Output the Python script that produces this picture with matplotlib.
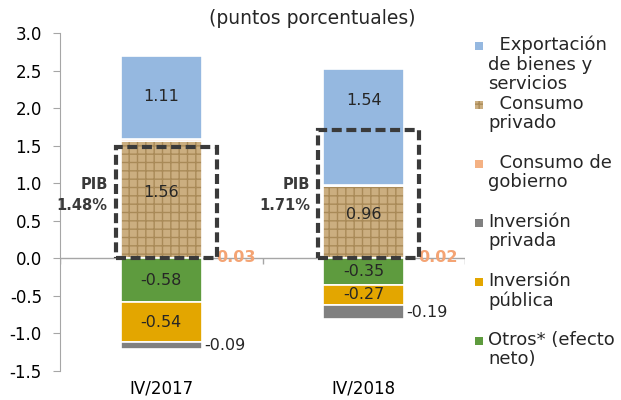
import numpy as np
import matplotlib
matplotlib.use("Agg")
import matplotlib.pyplot as plt
from matplotlib.patches import Rectangle

# data
periodos = ["IV/2017", "IV/2018"]
exportacion = [1.11, 1.54]
consumo_privado = [1.56, 0.96]
consumo_gobierno = [0.03, 0.02]
inversion_privada = [-0.09, -0.19]
inversion_publica = [-0.54, -0.27]
otros = [-0.58, -0.35]
pib = [1.48, 1.71]

c_exp = "#95B8E0"
c_cp = "#CBAE80"
c_cp_h = "#A98A58"
c_cg = "#F4B183"
c_ipr = "#808080"
c_ipu = "#E3A600"
c_otr = "#5E9B3E"
c_txt = "#262626"

plt.rcParams["font.family"] = ["DejaVu Sans"]

fig = plt.figure(figsize=(6.21, 4.0), dpi=100)
ax = fig.add_axes([60/621, 29/400, 405/621, 338/400])

x = np.arange(len(periodos))
w = 0.4
cp = np.array(consumo_privado)
cg = np.array(consumo_gobierno)
ex = np.array(exportacion)
ot = np.array(otros)
ipu = np.array(inversion_publica)
ipr = np.array(inversion_privada)

# positive stack
ax.bar(x, cp, w, color=c_cp, edgecolor=c_cp_h, hatch="++", linewidth=0, zorder=2)
ax.bar(x, cp, w, fill=False, edgecolor="white", linewidth=1.2, zorder=3)
ax.bar(x, cg, w, bottom=cp, color=c_cg, edgecolor="white", linewidth=1.2, zorder=3)
ax.bar(x, ex, w, bottom=cp + cg, color=c_exp, edgecolor="white", linewidth=1.2, zorder=3)
# negative stack
ax.bar(x, ot, w, color=c_otr, edgecolor="white", linewidth=1.2, zorder=3)
ax.bar(x, ipu, w, bottom=ot, color=c_ipu, edgecolor="white", linewidth=1.2, zorder=3)
ax.bar(x, ipr, w, bottom=ot + ipu, color=c_ipr, edgecolor="white", linewidth=1.2, zorder=3)

# export labels sit high in the segment (above the PIB box)
exp_lab_y = [2.15, 2.1]

fs = 11.5
for i in range(len(x)):
    ax.text(x[i], exp_lab_y[i], f"{ex[i]:.2f}", ha="center", va="center", fontsize=fs, color=c_txt, zorder=5)
    ax.text(x[i], cp[i] / 2 + 0.1, f"{cp[i]:.2f}", ha="center", va="center", fontsize=fs, color=c_txt, zorder=5)
    ax.text(x[i], ot[i] / 2, f"{ot[i]:.2f}", ha="center", va="center", fontsize=fs, color=c_txt, zorder=5)
    ax.text(x[i], ot[i] + ipu[i] / 2, f"{ipu[i]:.2f}", ha="center", va="center", fontsize=fs, color=c_txt, zorder=5)
    ax.text(x[i] + w / 2 + 0.01, ot[i] + ipu[i] + ipr[i] / 2, f"{ipr[i]:.2f}", ha="left", va="center", fontsize=fs, color=c_txt, zorder=5)
    ax.text(x[i] + w / 2 + 0.07, cg[i] / 2, f"{cg[i]:.2f}", ha="left", va="center", fontsize=fs, color="#F4A474", fontweight="bold", zorder=5)
    # PIB dashed box
    ax.add_patch(Rectangle((x[i] - 0.225, 0), 0.5, pib[i], fill=False, edgecolor="#3A3A3A",
                           linewidth=3, linestyle=(0, (2.4, 1.1)), zorder=6))
    ax.text(x[i] - 0.265, 0.84, f"PIB\n{pib[i]:.2f}%", ha="right", va="center", fontsize=10.5,
            fontweight="bold", color="#3A3A3A", linespacing=1.5, zorder=5)

ax.axhline(0, color="#A6A6A6", linewidth=1, zorder=1)
ax.vlines([-0.5, 0.5, 1.5], -0.07, 0, color="#A6A6A6", linewidth=1, zorder=1)

ax.set_xlim(-0.5, 1.5)
ax.set_ylim(-1.5, 3.0)
ax.set_yticks(np.arange(-1.5, 3.01, 0.5))
ax.set_yticklabels([f"{v:.1f}" for v in np.arange(-1.5, 3.01, 0.5)], fontsize=12)
ax.set_xticks(x)
ax.set_xticklabels(periodos, fontsize=12)
ax.tick_params(axis="x", length=0, pad=6)
ax.tick_params(axis="y", length=5, color="#A6A6A6", pad=8)
for s in ["top", "right", "bottom"]:
    ax.spines[s].set_visible(False)
ax.spines["left"].set_color("#A6A6A6")

fig.text(312/621, 1 - 19/400, "(puntos porcentuales)", ha="center", va="center", fontsize=13.5, color=c_txt)

# legend, drawn by hand
entries = [
    ("  Exportación\nde bienes y\nservicios", c_exp, None),
    ("  Consumo\nprivado", c_cp, "++"),
    ("  Consumo de\ngobierno", c_cg, None),
    ("Inversión\nprivada", c_ipr, None),
    ("Inversión\npública", c_ipu, None),
    ("Otros* (efecto\nneto)", c_otr, None),
]
for i, (lab, col, h) in enumerate(entries):
    ytop = 1 - (36 + 59 * i) / 400
    fig.add_artist(Rectangle((475/621, ytop - 14/400), 8/621, 8/400, transform=fig.transFigure,
                             facecolor=col, edgecolor=c_cp_h if h else col, hatch=h, linewidth=0))
    fig.text(488/621, ytop, lab, ha="left", va="top", fontsize=13, color=c_txt, linespacing=1.08)

fig.savefig("out.png", dpi=100)
